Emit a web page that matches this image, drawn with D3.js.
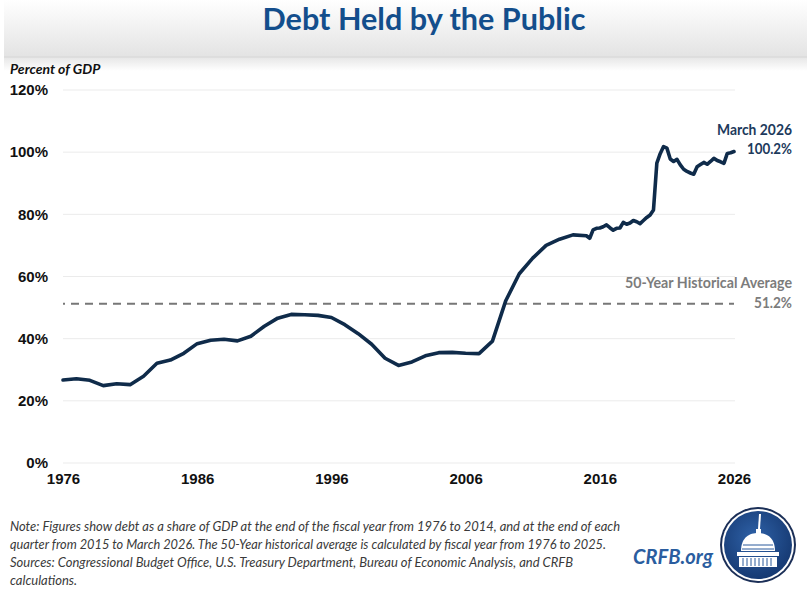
<!DOCTYPE html>
<html>
<head>
<meta charset="utf-8">
<script src="https://cdn.jsdelivr.net/npm/d3@7"></script>
<style>
  body { margin: 0; background: #fff; }
  svg { display: block; }
</style>
</head>
<body>
<svg id="chart" width="811" height="598"></svg>
<script>
// fiscal-year values, 1976-2014 (percent of GDP)
var annualYears = [1976, 1977, 1978, 1979, 1980, 1981, 1982, 1983, 1984, 1985,
    1986, 1987, 1988, 1989, 1990, 1991, 1992, 1993, 1994, 1995,
    1996, 1997, 1998, 1999, 2000, 2001, 2002, 2003, 2004, 2005,
    2006, 2007, 2008, 2009, 2010, 2011, 2012, 2013, 2014];
var annualDebt = [26.7, 27.1, 26.6, 24.9, 25.5, 25.2, 27.9, 32.1, 33.1, 35.3,
    38.4, 39.5, 39.8, 39.3, 40.8, 44.0, 46.6, 47.8, 47.7, 47.5,
    46.8, 44.5, 41.6, 38.2, 33.7, 31.4, 32.5, 34.5, 35.5, 35.6,
    35.3, 35.2, 39.2, 52.3, 60.9, 65.9, 70.0, 72.0, 73.4];

// end-of-quarter values, 2015 Q1 - 2026 Q1
var quarterLabels = ["2015Q1", "2015Q2", "2015Q3", "2015Q4", "2016Q1", "2016Q2", "2016Q3", "2016Q4",
    "2017Q1", "2017Q2", "2017Q3", "2017Q4", "2018Q1", "2018Q2", "2018Q3", "2018Q4",
    "2019Q1", "2019Q2", "2019Q3", "2019Q4", "2020Q1", "2020Q2", "2020Q3", "2020Q4",
    "2021Q1", "2021Q2", "2021Q3", "2021Q4", "2022Q1", "2022Q2", "2022Q3", "2022Q4",
    "2023Q1", "2023Q2", "2023Q3", "2023Q4", "2024Q1", "2024Q2", "2024Q3", "2024Q4",
    "2025Q1", "2025Q2", "2025Q3", "2025Q4", "2026Q1"];
var quarterDebt = [73.1, 72.3, 75.0, 75.5, 75.6, 76.0, 76.6, 75.7,
    74.9, 75.5, 75.6, 77.4, 76.8, 77.2, 78.0, 77.6,
    77.0, 78.0, 79.0, 79.8, 81.4, 96.5, 99.5, 101.8,
    101.3, 97.8, 97.0, 97.7, 95.9, 94.5, 93.8, 93.3,
    92.9, 95.3, 96.0, 96.7, 96.1, 97.0, 98.0, 97.3,
    96.9, 96.4, 99.6, 99.8, 100.2];

var historicalAverage = 51.2;
var yTicks = [0, 20, 40, 60, 80, 100, 120];
var xTicks = [1976, 1986, 1996, 2006, 2016, 2026];

var footnote = [
    "Note: Figures show debt as a share of GDP at the end of the fiscal year from 1976 to 2014, and at the end of each",
    "quarter from 2015 to March 2026. The 50-Year historical average is calculated by fiscal year from 1976 to 2025.",
    "Sources: Congressional Budget Office, U.S. Treasury Department, Bureau of Economic Analysis, and CRFB",
    "calculations."
];
var footnoteWidths = [610, 596, 563, 68];

var svg = d3.select('#chart');
var calibri = "Lato, 'Open Sans', sans-serif";
var arial = "'Liberation Sans', Arial, sans-serif";

// shrink text until it fits the width seen in the picture
// keep = how much of the original height to hold on to (1 = squeeze only)
function fit(sel, width, keep) {
    var node = sel.node();
    var size = parseFloat(sel.style('font-size'));
    var w = node.getComputedTextLength();
    if (w > width) {
        var k = width / w;
        var p = keep === undefined ? 0.5 : 1 - keep;
        sel.style('font-size', (size * Math.pow(k, p)) + 'px');
        sel.attr('textLength', width).attr('lengthAdjust', 'spacingAndGlyphs');
    }
    return sel;
}

// build one series out of both parts
var series = [];
annualYears.forEach(function(y, i) {
    series.push({t: y, v: annualDebt[i]});
});
quarterLabels.forEach(function(q, i) {
    var yr = +q.slice(0, 4), qn = +q.slice(5);
    series.push({t: yr + (qn - 1) / 4, v: quarterDebt[i]});
});

var x = d3.scaleLinear().domain([1976, 2026]).range([63, 734]);
var y = d3.scaleLinear().domain([0, 120]).range([463, 90]);

// header band
var defs = svg.append('defs');
var hg = defs.append('linearGradient').attr('id', 'hdr').attr('x1', 0).attr('y1', 0).attr('x2', 0).attr('y2', 1);
hg.append('stop').attr('offset', '0%').attr('stop-color', '#ffffff');
hg.append('stop').attr('offset', '100%').attr('stop-color', '#e3e3e3');
var sg = defs.append('linearGradient').attr('id', 'shadow').attr('x1', 0).attr('y1', 0).attr('x2', 0).attr('y2', 1);
sg.append('stop').attr('offset', '0%').attr('stop-color', '#e6e6e6');
sg.append('stop').attr('offset', '100%').attr('stop-color', '#ffffff');
var lg = defs.append('radialGradient').attr('id', 'logo').attr('cx', '45%').attr('cy', '40%').attr('r', '60%');
lg.append('stop').attr('offset', '0%').attr('stop-color', '#2f62a8');
lg.append('stop').attr('offset', '100%').attr('stop-color', '#163a73');

svg.append('rect').attr('x', 4).attr('y', 0).attr('width', 803).attr('height', 57).attr('fill', 'url(#hdr)');
svg.append('rect').attr('x', 4).attr('y', 57).attr('width', 803).attr('height', 14).attr('fill', 'url(#shadow)');
svg.append('line').attr('x1', 4).attr('x2', 807).attr('y1', 57).attr('y2', 57)
    .attr('stroke', '#d6d6d6').attr('stroke-width', 1);

fit(svg.append('text')
    .attr('x', 424).attr('y', 30)
    .attr('text-anchor', 'middle')
    .style('font-family', calibri).style('font-weight', 700).style('font-size', '31px')
    .attr('fill', '#134e8c')
    .text('Debt Held by the Public'), 323, 0.85);

fit(svg.append('text')
    .attr('x', 10).attr('y', 74)
    .style('font-family', calibri).style('font-weight', 700).style('font-style', 'italic').style('font-size', '14px')
    .attr('fill', '#111')
    .text('Percent of GDP'), 98);

// gridlines
svg.append('g').selectAll('line').data(yTicks).enter().append('line')
    .attr('x1', x(1976)).attr('x2', x(2026) + 1)
    .attr('y1', function(d) { return y(d); }).attr('y2', function(d) { return y(d); })
    .attr('stroke', '#ebebeb').attr('stroke-width', 1);

// axes, drawn with d3 and stripped down to labels
var yAxis = svg.append('g').attr('transform', 'translate(48,0)')
    .call(d3.axisLeft(y).tickValues(yTicks).tickSize(0).tickPadding(0)
        .tickFormat(function(d) { return d + '%'; }));
yAxis.select('.domain').remove();
yAxis.selectAll('text')
    .style('font-family', arial).style('font-weight', 700).style('font-size', '15px')
    .attr('fill', '#111');

var xAxis = svg.append('g').attr('transform', 'translate(0,473)')
    .call(d3.axisBottom(x).tickValues(xTicks).tickSize(0).tickPadding(0)
        .tickFormat(d3.format('d')));
xAxis.select('.domain').remove();
xAxis.selectAll('text')
    .style('font-family', arial).style('font-weight', 700).style('font-size', '15px')
    .attr('fill', '#111');

// 50-year average
svg.append('line')
    .attr('x1', x(1976)).attr('x2', x(2026))
    .attr('y1', y(historicalAverage)).attr('y2', y(historicalAverage))
    .attr('stroke', '#777').attr('stroke-width', 2)
    .attr('stroke-dasharray', '8,6')
    .attr('stroke-dashoffset', 6);

// debt line
var line = d3.line()
    .x(function(d) { return x(d.t); })
    .y(function(d) { return y(d.v); });

svg.append('path')
    .datum(series)
    .attr('d', line)
    .attr('fill', 'none')
    .attr('stroke', '#0f2b4a')
    .attr('stroke-width', 3.6)
    .attr('stroke-linejoin', 'round')
    .attr('stroke-linecap', 'round');

// annotations
var last = series[series.length - 1];
function note(txt, ty, len, col) {
    fit(svg.append('text')
        .attr('x', 792).attr('y', ty)
        .attr('text-anchor', 'end')
        .style('font-family', calibri).style('font-weight', 700).style('font-size', '16px')
        .attr('fill', col)
        .text(txt), len);
}
note('March 2026', 135, 75, '#1d3a5c');
note(d3.format('.1f')(last.v) + '%', 154, 45, '#1d3a5c');
note('50-Year Historical Average', 288, 167, '#7c7c7c');
note(d3.format('.1f')(historicalAverage) + '%', 308, 38, '#7c7c7c');

// footnote
svg.append('g').selectAll('text').data(footnote).enter().append('text')
    .attr('x', 10)
    .attr('y', function(d, i) { return 531 + i * 18; })
    .style('font-family', calibri).style('font-style', 'italic').style('font-size', '13px')
    .attr('fill', '#3a3a3a')
    .text(function(d) { return d; })
    .each(function(d, i) { fit(d3.select(this), footnoteWidths[i]); });

// CRFB mark
fit(svg.append('text')
    .attr('x', 713).attr('y', 564)
    .attr('text-anchor', 'end')
    .style('font-family', calibri).style('font-weight', 700).style('font-style', 'italic').style('font-size', '21px')
    .attr('fill', '#2a5d9f')
    .text('CRFB.org'), 80);

var logo = svg.append('g').attr('transform', 'translate(758,545)');
logo.append('circle').attr('r', 38).attr('fill', '#1b2f57');
logo.append('circle').attr('r', 36).attr('fill', '#ffffff');
logo.append('circle').attr('r', 34).attr('fill', 'url(#logo)');
// capitol
logo.append('path').attr('d', 'M1,-31 L3,-31 L2,-16 L0,-16 Z').attr('fill', '#fff');
logo.append('rect').attr('x', -2).attr('y', -16).attr('width', 5).attr('height', 5).attr('fill', '#fff');
logo.append('path').attr('d', 'M-17,6 C-17,-8 -8,-12 0,-12 C8,-12 17,-8 17,6 Z').attr('fill', '#fff');
logo.append('path').attr('d', 'M-15,0 L15,0 M-16,4 L16,4').attr('stroke', '#2a5a9c').attr('stroke-width', 1);
logo.append('rect').attr('x', -21).attr('y', 7).attr('width', 42).attr('height', 4).attr('fill', '#fff');
logo.append('rect').attr('x', -19).attr('y', 12).attr('width', 38).attr('height', 10).attr('fill', '#fff');
logo.append('path')
    .attr('d', 'M-15,13 V21 M-11,13 V21 M-7,13 V21 M-3,13 V21 M1,13 V21 M5,13 V21 M9,13 V21 M13,13 V21')
    .attr('stroke', '#2a5a9c').attr('stroke-width', 1);
</script>
</body>
</html>
